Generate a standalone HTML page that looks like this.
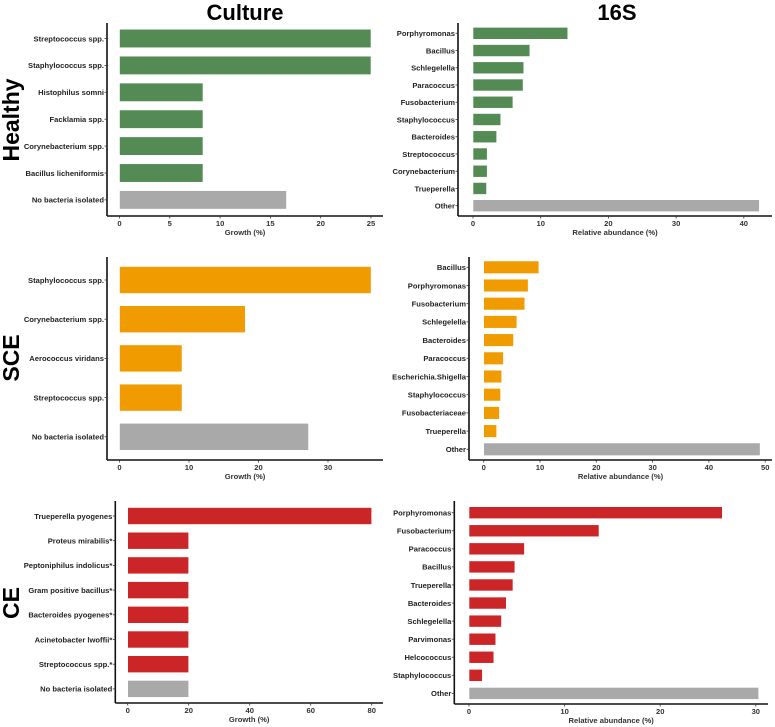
<!DOCTYPE html>
<html><head><meta charset="utf-8"><style>
html,body{margin:0;padding:0;background:#fff;}
svg{display:block;font-family:"Liberation Sans",Arial,sans-serif;}
</style></head><body>
<svg id="fig" width="775" height="727" viewBox="0 0 775 727">
<text x="245" y="20" text-anchor="middle" font-size="22" font-weight="bold">Culture</text>
<text x="617" y="20" text-anchor="middle" font-size="22" font-weight="bold">16S</text>
<text transform="translate(19,120) rotate(-90)" text-anchor="middle" font-size="23" font-weight="bold">Healthy</text>
<text transform="translate(19,358) rotate(-90)" text-anchor="middle" font-size="23" font-weight="bold">SCE</text>
<text transform="translate(19,603) rotate(-90)" text-anchor="middle" font-size="23" font-weight="bold">CE</text>
</svg>
<script>
const healthyCultureCats=["Streptococcus spp.","Staphylococcus spp.","Histophilus somni","Facklamia spp.","Corynebacterium spp.","Bacillus licheniformis","No bacteria isolated"];
const healthyCultureVals=[25,25,8.3,8.3,8.3,8.3,16.6];
const healthyCultureTicks=[0,5,10,15,20,25];
const healthy16sCats=["Porphyromonas","Bacillus","Schlegelella","Paracoccus","Fusobacterium","Staphylococcus","Bacteroides","Streptococcus","Corynebacterium","Trueperella","Other"];
const healthy16sVals=[14,8.4,7.5,7.4,5.9,4.1,3.5,2.1,2.1,2.0,42.3];
const healthy16sTicks=[0,10,20,30,40];
const sceCultureCats=["Staphylococcus spp.","Corynebacterium spp.","Aerococcus viridans","Streptococcus spp.","No bacteria isolated"];
const sceCultureVals=[36.2,18.1,9.0,9.0,27.2];
const sceCultureTicks=[0,10,20,30];
const sce16sCats=["Bacillus","Porphyromonas","Fusobacterium","Schlegelella","Bacteroides","Paracoccus","Escherichia.Shigella","Staphylococcus","Fusobacteriaceae","Trueperella","Other"];
const sce16sVals=[9.8,7.9,7.3,5.9,5.3,3.5,3.2,3.0,2.8,2.3,49.1];
const sce16sTicks=[0,10,20,30,40,50];
const ceCultureCats=["Trueperella pyogenes","Proteus mirabilis*","Peptoniphilus indolicus*","Gram positive bacillus*","Bacteroides pyogenes*","Acinetobacter lwoffii*","Streptococcus spp.*","No bacteria isolated"];
const ceCultureVals=[80,20,20,20,20,20,20,20];
const ceCultureTicks=[0,20,40,60,80];
const ce16sCats=["Porphyromonas","Fusobacterium","Paracoccus","Bacillus","Trueperella","Bacteroides","Schlegelella","Parvimonas","Helcococcus","Staphylococcus","Other"];
const ce16sVals=[26.5,13.6,5.8,4.8,4.6,3.9,3.4,2.8,2.6,1.4,30.3];
const ce16sTicks=[0,10,20,30];

const NS="http://www.w3.org/2000/svg";
const svg=document.getElementById("fig");
function mk(tag,attrs,parent){const e=document.createElementNS(NS,tag);for(const k in attrs)e.setAttribute(k,attrs[k]);(parent||svg).appendChild(e);return e;}

function panel(name,cats,vals,ticks,g){
  const grp=mk("g",{});
  
  
  const xs=v=>g.x0+v*g.ppu;
  const ys=i=>g.c0+i*g.step;
  // axes
  const ya=mk("line",{x1:g.ax,x2:g.ax,y1:g.top,y2:g.bot,stroke:"#111","stroke-width":1.6},grp);
  
  
  const xa=mk("line",{x1:g.ax,x2:g.right,y1:g.bot,y2:g.bot,stroke:"#111","stroke-width":1.6},grp);
  
  
  cats.forEach((c,i)=>{
    const y=ys(i);
    const last=i===cats.length-1;
    const r=mk("rect",{x:xs(0),y:y-g.h/2,width:Math.max(0,xs(vals[i])-xs(0)),height:g.h,fill:last?"#a9a9a9":g.color,stroke:"#fff","stroke-width":0.6},grp);
    
    
    mk("line",{x1:g.ax-2.5,x2:g.ax,y1:y,y2:y,stroke:"#333","stroke-width":0.8},grp);
    const t=mk("text",{x:g.ax-3,y:y+2.8,"text-anchor":"end","font-size":7.6,"font-weight":"bold",fill:"#222"},grp);
    t.textContent=c;
    
    
  });
  ticks.forEach(v=>{
    const x=xs(v);
    mk("line",{x1:x,x2:x,y1:g.bot,y2:g.bot+2.5,stroke:"#333","stroke-width":0.8},grp);
    const t=mk("text",{x:x,y:g.bot+10,"text-anchor":"middle","font-size":7.6,"font-weight":"bold",fill:"#333"},grp);
    t.textContent=v;
    
    
  });
  const at=mk("text",{x:(g.ax+g.right)/2,y:g.bot+19,"text-anchor":"middle","font-size":7.6,"font-weight":"bold",fill:"#333"},grp);
  at.textContent=g.title;
  
  
}
const GREEN="#548b54",ORANGE="#f09b00",RED="#cc2528";
panel("healthy-culture",healthyCultureCats,healthyCultureVals,healthyCultureTicks,{ax:107,top:23,bot:216,right:383,x0:119.5,ppu:10.06,c0:38.5,step:26.9,h:18.5,color:GREEN,title:"Growth (%)"});
panel("healthy-16s",healthy16sCats,healthy16sVals,healthy16sTicks,{ax:458,top:23,bot:216,right:772,x0:473,ppu:6.77,c0:33.3,step:17.24,h:12,color:GREEN,title:"Relative abundance (%)"});
panel("sce-culture",sceCultureCats,sceCultureVals,sceCultureTicks,{ax:107,top:257,bot:460,right:383,x0:119.5,ppu:6.95,c0:280,step:39.2,h:27,color:ORANGE,title:"Growth (%)"});
panel("sce-16s",sce16sCats,sce16sVals,sce16sTicks,{ax:469,top:257,bot:460,right:772,x0:483.7,ppu:5.63,c0:267.3,step:18.2,h:12.7,color:ORANGE,title:"Relative abundance (%)"});
panel("ce-culture",ceCultureCats,ceCultureVals,ceCultureTicks,{ax:115.3,top:501,bot:703,right:383,x0:127.7,ppu:3.05,c0:516,step:24.7,h:17,color:RED,title:"Growth (%)"});
panel("ce-16s",ce16sCats,ce16sVals,ce16sTicks,{ax:454.3,top:501,bot:704,right:768,x0:469,ppu:9.56,c0:512.7,step:18.07,h:12,color:RED,title:"Relative abundance (%)"});
</script>
</body></html>
